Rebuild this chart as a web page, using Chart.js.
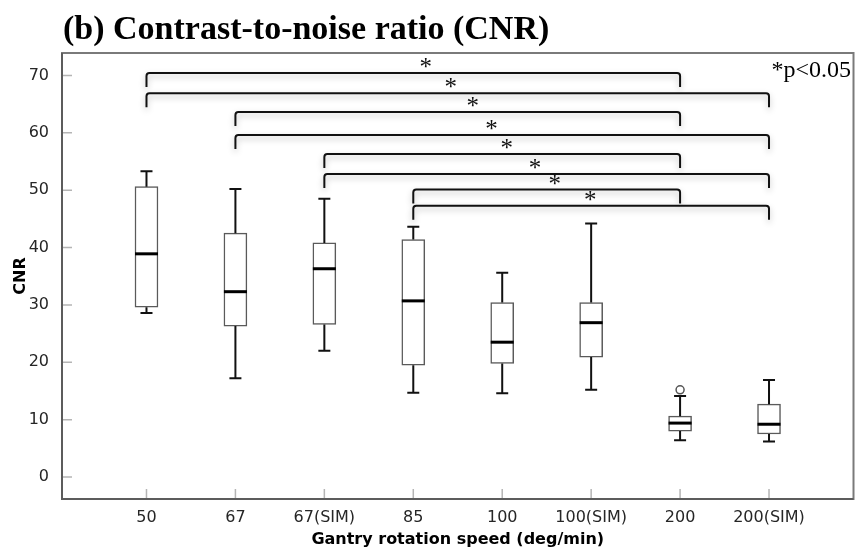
<!DOCTYPE html>
<html>
<head>
<meta charset="utf-8">
<title>CNR box plot</title>
<script src="https://cdn.jsdelivr.net/npm/chart.js@4.4.1/dist/chart.umd.min.js"></script>
<style>
  html, body { margin: 0; padding: 0; background: #fff; }
  #wrap { width: 859px; height: 552px; position: relative; }
</style>
</head>
<body>
<div id="wrap"><canvas id="cnrChart"></canvas></div>
<script>
// box plot values
const categories = ["50", "67", "67(SIM)", "85", "100", "100(SIM)", "200", "200(SIM)"];
const whiskerLow  = [28.6, 17.2, 22.0, 14.7, 14.6, 15.2, 6.4, 6.2];
const q1          = [29.6, 26.3, 26.6, 19.5, 19.8, 20.9, 8.0, 7.5];
const median      = [38.9, 32.3, 36.3, 30.7, 23.5, 26.9, 9.4, 9.2];
const q3          = [50.6, 42.5, 40.8, 41.4, 30.4, 30.4, 10.6, 12.7];
const whiskerHigh = [53.3, 50.2, 48.5, 43.6, 35.6, 44.2, 14.1, 16.9];
const outlierCat  = [6];
const outlierVal  = [15.2];
const yTicks = [0, 10, 20, 30, 40, 50, 60, 70];

// significance brackets (*p<0.05)
const pairFrom  = [0, 0, 1, 1, 2, 2, 3, 3];
const pairTo    = [6, 7, 6, 7, 6, 7, 6, 7];
const pairLevel = [70.4, 66.9, 63.6, 59.6, 56.3, 52.8, 50.1, 47.3];
const starAt    = [3.14, 3.42, 3.67, 3.88, 4.05, 4.37, 4.59, 4.99];

const sansFont = '"DejaVu Sans", sans-serif';
const serifFont = '"Liberation Serif", "Times New Roman", serif';

// whiskers, caps and medians drawn on the chart scales
const boxParts = {
    id: "boxParts",
    afterDatasetsDraw(chart) {
        const ctx = chart.ctx;
        const xs = chart.scales.x, ys = chart.scales.y;
        const halfBox = 11.5, halfCap = 6;
        ctx.save();
        for (let i = 0; i < categories.length; i++) {
            const px = xs.getPixelForValue(i);
            ctx.strokeStyle = "#111";
            ctx.lineWidth = 2;
            ctx.beginPath();
            ctx.moveTo(px, ys.getPixelForValue(q3[i]));
            ctx.lineTo(px, ys.getPixelForValue(whiskerHigh[i]));
            ctx.moveTo(px, ys.getPixelForValue(q1[i]));
            ctx.lineTo(px, ys.getPixelForValue(whiskerLow[i]));
            ctx.moveTo(px - halfCap, ys.getPixelForValue(whiskerHigh[i]));
            ctx.lineTo(px + halfCap, ys.getPixelForValue(whiskerHigh[i]));
            ctx.moveTo(px - halfCap, ys.getPixelForValue(whiskerLow[i]));
            ctx.lineTo(px + halfCap, ys.getPixelForValue(whiskerLow[i]));
            ctx.stroke();
            // median
            ctx.strokeStyle = "#000";
            ctx.lineWidth = 3;
            ctx.beginPath();
            ctx.moveTo(px - halfBox, ys.getPixelForValue(median[i]));
            ctx.lineTo(px + halfBox, ys.getPixelForValue(median[i]));
            ctx.stroke();
        }
        ctx.restore();
    }
};

// frame, inner tick marks, brackets, stars and texts
const decor = {
    id: "decor",
    afterDraw(chart) {
        const ctx = chart.ctx;
        const area = chart.chartArea;
        const xs = chart.scales.x, ys = chart.scales.y;
        ctx.save();

        // inner ticks
        ctx.strokeStyle = "#b5b5b5";
        ctx.lineWidth = 1.5;
        ctx.beginPath();
        yTicks.forEach(v => {
            const py = ys.getPixelForValue(v);
            ctx.moveTo(area.left, py);
            ctx.lineTo(area.left + 10, py);
        });
        categories.forEach((c, i) => {
            const px = xs.getPixelForValue(i);
            ctx.moveTo(px, area.bottom);
            ctx.lineTo(px, area.bottom - 10);
        });
        ctx.stroke();

        // frame
        ctx.strokeStyle = "#7a7a7a";
        ctx.lineWidth = 2;
        ctx.strokeRect(area.left, area.top, area.right - area.left, area.bottom - area.top);
        ctx.strokeStyle = "#5c5c5c";
        ctx.beginPath();
        ctx.moveTo(area.left, area.top);
        ctx.lineTo(area.left, area.bottom);
        ctx.lineTo(area.right, area.bottom);
        ctx.stroke();

        // brackets with soft shadow
        const leg = 14, r = 3;
        for (let k = 0; k < pairFrom.length; k++) {
            const x1 = xs.getPixelForValue(pairFrom[k]);
            const x2 = xs.getPixelForValue(pairTo[k]);
            const py = ys.getPixelForValue(pairLevel[k]);
            ctx.save();
            ctx.shadowColor = "rgba(0,0,0,0.28)";
            ctx.shadowBlur = 6;
            ctx.shadowOffsetY = 3;
            ctx.strokeStyle = "#111";
            ctx.lineWidth = 2;
            ctx.beginPath();
            ctx.moveTo(x1, py + leg);
            ctx.arcTo(x1, py, x1 + r, py, r);
            ctx.lineTo(x2 - r, py);
            ctx.arcTo(x2, py, x2, py + r, r);
            ctx.lineTo(x2, py + leg);
            ctx.stroke();
            ctx.restore();

            ctx.fillStyle = "#111";
            ctx.font = "25px " + serifFont;
            ctx.textAlign = "center";
            ctx.textBaseline = "alphabetic";
            ctx.fillText("*", xs.getPixelForValue(starAt[k]), py + 2);
        }

        // p-value note
        ctx.fillStyle = "#000";
        ctx.font = "24px " + serifFont;
        ctx.textAlign = "right";
        ctx.fillText("*p<0.05", 851, 77);

        // panel title
        ctx.font = "bold 34px " + serifFont;
        ctx.textAlign = "left";
        ctx.fillText("(b) Contrast-to-noise ratio (CNR)", 63, 39);

        ctx.restore();
    }
};

const boxData = categories.map((c, i) => ({ x: i, y: [q1[i], q3[i]] }));
const outlierData = outlierCat.map((c, i) => ({ x: c, y: outlierVal[i] }));

new Chart(document.getElementById("cnrChart"), {
    type: "bar",
    data: {
        datasets: [
            {
                type: "bar",
                data: boxData,
                backgroundColor: "#ffffff",
                borderColor: "#5a5a5a",
                borderWidth: 1.5,
                borderSkipped: false,
                barThickness: 23
            },
            {
                type: "scatter",
                data: outlierData,
                pointStyle: "circle",
                pointRadius: 4,
                backgroundColor: "#ffffff",
                borderColor: "#555",
                borderWidth: 1.5
            }
        ]
    },
    options: {
        responsive: true,
        maintainAspectRatio: false,
        animation: false,
        layout: { padding: { top: 53, right: 3, left: 0, bottom: 0 } },
        plugins: {
            legend: { display: false },
            tooltip: { enabled: false },
            title: { display: false }
        },
        scales: {
            x: {
                type: "linear",
                offset: false,
                min: -0.95,
                max: 7.95,
                grid: { display: false, offset: false },
                border: { display: false },
                afterBuildTicks: s => { s.ticks = categories.map((c, i) => ({ value: i })); },
                afterFit: s => { s.height = 53; },
                ticks: {
                    autoSkip: false,
                    maxRotation: 0,
                    padding: 1,
                    color: "#262626",
                    font: { family: sansFont, size: 16 },
                    callback: v => categories[v]
                },
                title: {
                    display: true,
                    text: "Gantry rotation speed (deg/min)",
                    color: "#000",
                    font: { family: sansFont, size: 16, weight: "bold" },
                    padding: { top: 0, bottom: 3 }
                }
            },
            y: {
                min: -3.83,
                max: 73.9,
                grid: { display: false },
                border: { display: false },
                afterBuildTicks: s => { s.ticks = yTicks.map(v => ({ value: v })); },
                afterFit: s => { s.width = 62; },
                ticks: {
                    padding: 5,
                    color: "#262626",
                    font: { family: sansFont, size: 16 }
                },
                title: {
                    display: true,
                    text: "CNR",
                    color: "#000",
                    font: { family: sansFont, size: 16, weight: "bold" },
                    padding: { top: 11, bottom: 0 }
                }
            }
        }
    },
    plugins: [boxParts, decor]
});
</script>
</body>
</html>
